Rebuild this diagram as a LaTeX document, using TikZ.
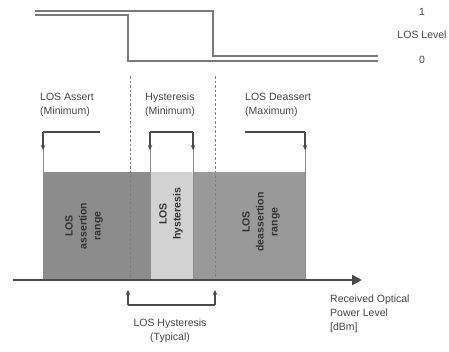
\documentclass[tikz,border=0pt]{standalone}
\usepackage{fontspec}
\setmainfont{Liberation Sans}
\usetikzlibrary{arrows.meta}
\definecolor{bardark}{HTML}{8C8C8C}
\definecolor{barmid}{HTML}{999999}
\definecolor{barlight}{HTML}{D2D2D2}
\definecolor{ink}{HTML}{4A4A4A}
\definecolor{sig}{HTML}{7A7A7A}
\definecolor{txtc}{HTML}{444444}
\begin{document}
\begin{tikzpicture}[x=1pt,y=-1pt,
  txt/.style={font=\fontsize{10.5}{14}\selectfont, align=left, text=txtc, inner sep=0pt},
  ctxt/.style={txt, align=center},
  rtxt/.style={font=\fontsize{10.5}{14}\selectfont\bfseries, align=center, text=black!80, inner sep=0pt, rotate=90},
  sigline/.style={draw=sig, line width=1.4pt},
  brk/.style={draw=ink, line width=2.6pt},
  brkdown/.style={draw=ink, line width=1.3pt, -{Stealth[length=5pt,width=4.5pt]}},
  guide/.style={draw=black!45, line width=0.6pt},
  dashv/.style={draw=black!50, line width=0.7pt, dash pattern=on 2.5pt off 2pt},
  axisline/.style={draw=ink, line width=2.6pt, -{Triangle[length=10pt,width=10pt]}}
]
\useasboundingbox (0,0) rectangle (449,351);

% coordinates
\coordinate (s1a) at (35,11);
\coordinate (s1b) at (213,11);
\coordinate (s1c) at (213,56);
\coordinate (s1d) at (378,56);
\coordinate (s2a) at (35,15);
\coordinate (s2b) at (128,15);
\coordinate (s2c) at (128,61);
\coordinate (s2d) at (378,61);

% signal levels
\draw[sigline] (s1a) -- (s1b) -- (s1c) -- (s1d);
\draw[sigline] (s2a) -- (s2b) -- (s2c) -- (s2d);

\node[ctxt] (one) at (422,12) {1};
\node[ctxt] (loslevel) at (422,35) {LOS Level};
\node[ctxt] (zero) at (422,60) {0};

% bars
\fill[bardark] (43,172) rectangle (150,280);
\fill[barlight] (150,172) rectangle (193,280);
\fill[barmid] (193,172) rectangle (305,280);

% guides from arrows to bars
\coordinate (g1) at (43,148);  \coordinate (g1b) at (43,280);
\coordinate (g2) at (150,148); \coordinate (g2b) at (150,280);
\coordinate (g3) at (193,148); \coordinate (g3b) at (193,280);
\coordinate (g4) at (305,148); \coordinate (g4b) at (305,280);
\draw[guide] (g1) -- (g1b);
\draw[guide] (g2) -- (g2b);
\draw[guide] (g3) -- (g3b);
\draw[guide] (g4) -- (g4b);

% dashed verticals
\coordinate (d1) at (130,76); \coordinate (d1b) at (130,280);
\coordinate (d2) at (215,76); \coordinate (d2b) at (215,280);
\draw[dashv] (d1) -- (d1b);
\draw[dashv] (d2) -- (d2b);

% top labels
\node[txt, anchor=west] (assert) at (40,105) {LOS Assert\\(Minimum)};
\node[ctxt] (hyst) at (170,105) {Hysteresis\\(Minimum)};
\node[txt, anchor=west] (deassert) at (245,105) {LOS Deassert\\(Maximum)};

% top brackets
\coordinate (b1a) at (100,132); \coordinate (b1b) at (43,132); \coordinate (b1c) at (43,150);
\draw[brk] (b1a) -- (b1b);
\draw[brkdown] (b1b) -- (b1c);

\coordinate (b2a) at (150,132); \coordinate (b2b) at (193,132);
\coordinate (b2c) at (150,150); \coordinate (b2d) at (193,150);
\draw[brk] (b2a) -- (b2b);
\draw[brkdown] (b2a) -- (b2c);
\draw[brkdown] (b2b) -- (b2d);

\coordinate (b3a) at (245,132); \coordinate (b3b) at (305,132); \coordinate (b3c) at (305,150);
\draw[brk] (b3a) -- (b3b);
\draw[brkdown] (b3b) -- (b3c);

% rotated bar labels
\node[rtxt] (r1) at (84,226) {LOS\\assertion\\range};
\node[rtxt] (r2) at (171,214) {LOS\\hysteresis};
\node[rtxt] (r3) at (261,222) {LOS\\deassertion\\range};

% axis
\coordinate (ax0) at (13,280); \coordinate (ax1) at (362,280);
\draw[axisline] (ax0) -- (ax1);

\node[txt, anchor=north west] (rop) at (330,295) {Received Optical\\Power Level\\{[dBm]}};

% bottom bracket
\coordinate (h1) at (128,305); \coordinate (h2) at (215,305);
\coordinate (h1t) at (128,290); \coordinate (h2t) at (215,290);
\draw[draw=ink, line width=1.3pt] (h1) -- (h2);
\draw[brkdown] (h1) -- (h1t);
\draw[brkdown] (h2) -- (h2t);
\node[ctxt] (hystt) at (170,331) {LOS Hysteresis\\(Typical)};
\end{tikzpicture}
\end{document}
